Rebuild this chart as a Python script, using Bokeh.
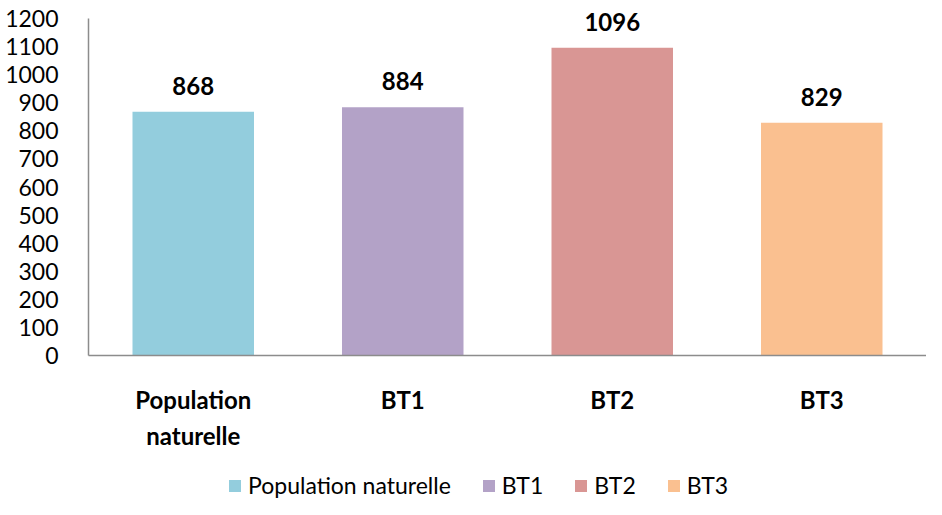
from bokeh.plotting import figure
from bokeh.layouts import column
from bokeh.models import (ColumnDataSource, FactorRange, Range1d, Legend, LegendItem,
                          FixedTicker, LabelSet, CategoricalAxis, CustomJSTickFormatter)
from bokeh.core.properties import value
from bokeh.embed import file_html
from bokeh.resources import INLINE

categories = ["Population naturelle", "BT1", "BT2", "BT3"]
values = [868, 884, 1096, 829]
colors = ["#93CDDD", "#B3A2C7", "#D99694", "#FAC090"]
y_ticks = list(range(0, 1300, 100))

FONT = "Lato"

src = ColumnDataSource(dict(cat=categories, val=values, lab=[str(v) for v in values]))

p = figure(width=926, height=455, output_backend="svg", toolbar_location=None,
           x_range=FactorRange(factors=categories, range_padding=0),
           y_range=Range1d(0, 1250),
           min_border_left=88, min_border_right=0, min_border_top=4,
           min_border_bottom=100)
p.outline_line_color = None
p.xgrid.grid_line_color = None
p.ygrid.grid_line_color = None

for i, c in enumerate(categories):
    p.vbar(x=[c], top=[values[i]], width=0.58, fill_color=colors[i], line_color=None)

labels = LabelSet(x="cat", y="val", text="lab", source=src, y_offset=26,
                  text_align="center", text_baseline="middle",
                  text_font=value(FONT), text_font_style="bold", text_font_size="24px",
                  text_color="black")
p.add_layout(labels)

p.yaxis.ticker = FixedTicker(ticks=y_ticks)
p.yaxis.bounds = (0, 1200)
p.yaxis.major_tick_line_color = None
p.yaxis.minor_tick_line_color = None
p.yaxis.major_label_standoff = 24
p.yaxis.axis_line_color = "#8C8C8C"
p.yaxis.axis_line_width = 1.5
p.yaxis.major_label_text_font = FONT
p.yaxis.major_label_text_font_size = "23px"
p.yaxis.major_label_text_color = "black"

fmt1 = CustomJSTickFormatter(code="return tick.split(' ')[0];")
fmt2 = CustomJSTickFormatter(code="const s = tick.split(' '); return s.length > 1 ? s.slice(1).join(' ') : '';")

ax1 = p.xaxis[0]
ax1.major_tick_line_color = None
ax1.minor_tick_line_color = None
ax1.axis_line_color = "#8C8C8C"
ax1.axis_line_width = 1.5
ax1.major_label_standoff = 23
ax1.major_label_text_font = FONT
ax1.major_label_text_font_size = "24px"
ax1.major_label_text_font_style = "bold"
ax1.major_label_text_color = "black"
ax1.formatter = fmt1

ax2 = CategoricalAxis(major_tick_line_color=None, minor_tick_line_color=None,
                      axis_line_color=None,
                      major_label_standoff=-2, major_label_text_font=FONT,
                      major_label_text_font_size="24px", major_label_text_font_style="bold",
                      major_label_text_color="black", formatter=fmt2)
p.add_layout(ax2, "below")

# legend strip
q = figure(width=926, height=44, output_backend="svg", toolbar_location=None,
           x_range=FactorRange(factors=categories), y_range=Range1d(2000, 3000),
           x_axis_location=None, y_axis_location=None,
           min_border_left=0, min_border_right=0, min_border_top=0, min_border_bottom=0)
q.outline_line_color = None
q.xgrid.grid_line_color = None
q.ygrid.grid_line_color = None
leg_renderers = []
for i, c in enumerate(categories):
    r = q.vbar(x=[c], top=[values[i]], width=0.58, fill_color=colors[i], line_color=None)
    leg_renderers.append(r)

legend = Legend(items=[LegendItem(label=c, renderers=[r]) for c, r in zip(categories, leg_renderers)],
                orientation="horizontal", location=(139, 0),
                glyph_width=15, glyph_height=15, label_standoff=6, spacing=30,
                padding=0, margin=0, border_line_color=None, background_fill_alpha=0,
                label_text_font=FONT, label_text_font_size="23px", label_text_color="black")
q.add_layout(legend, "center")

layout = column(p, q, spacing=0)
open("out.html", "w").write(file_html(layout, INLINE))
